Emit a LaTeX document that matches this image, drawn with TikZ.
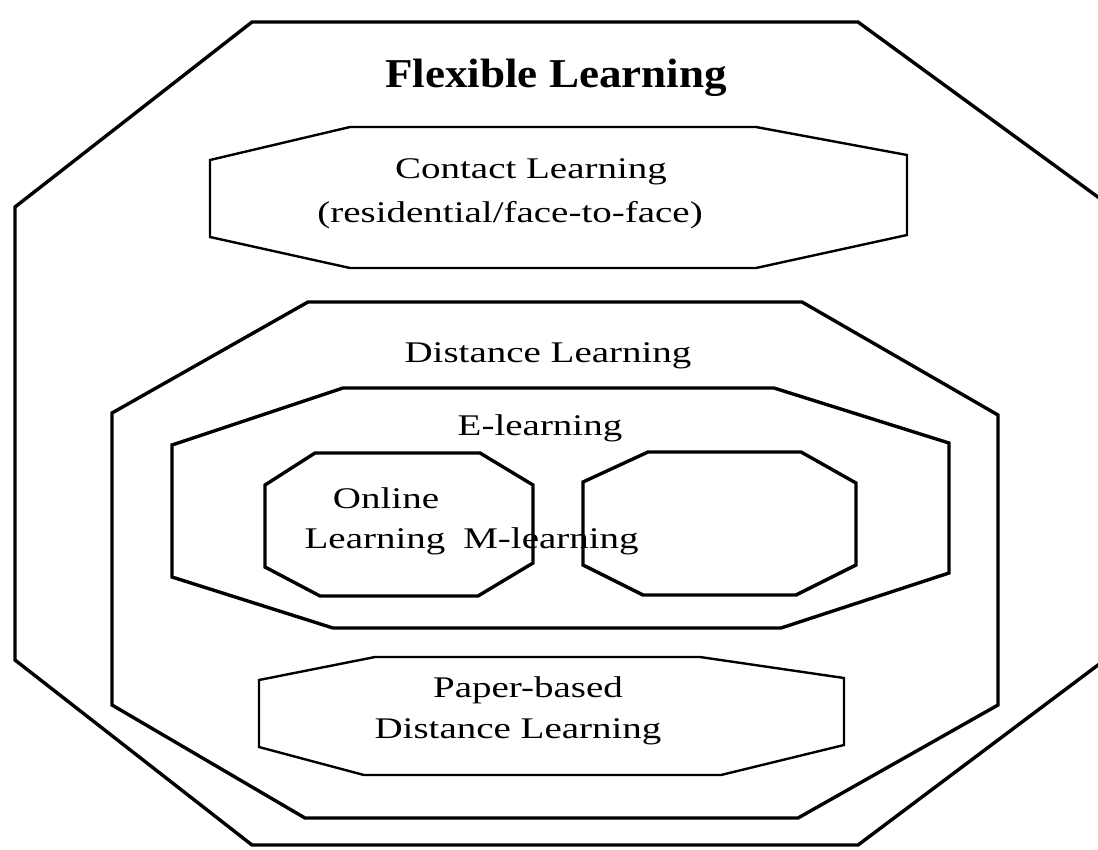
\documentclass[tikz,border=0pt]{standalone}
\usepackage{fontspec}
\setmainfont{Liberation Serif}
\newfontfamily\bodyfont[FakeStretch=1.3]{Liberation Serif}
\newfontfamily\titlefont[FakeStretch=1.1]{Liberation Serif}
\tikzset{
  octa/.style={draw=black, line width=3.4pt, line join=miter},
  octathin/.style={draw=black, line width=2.4pt, line join=miter},
  lbl/.style={inner sep=0pt, anchor=base, font=\bodyfont\fontsize{30}{42}\selectfont},
  ttl/.style={inner sep=0pt, anchor=base, font=\titlefont\bfseries\fontsize{41}{48}\selectfont}
}
\begin{document}
\begin{tikzpicture}[x=1pt, y=-1pt]
\useasboundingbox (0,0) rectangle (1098,849);
\fill[white] (0,0) rectangle (1098,849);

% Flexible Learning (outer)
\draw[octa] (252,22) -- (858,22) -- (1102,200) -- (1102,662) -- (858,845)
  -- (252,845) -- (15,660) -- (15,207) -- cycle;
% Contact Learning
\draw[octathin] (350,127) -- (756,127) -- (907,155) -- (907,235) -- (756,268)
  -- (350,268) -- (210,237) -- (210,160) -- cycle;
% Distance Learning
\draw[octa] (308,302) -- (802,302) -- (998,415) -- (998,705) -- (798,818)
  -- (305,818) -- (112,705) -- (112,413) -- cycle;
% E-learning
\draw[octa] (343,388) -- (774,388) -- (949,443) -- (949,573) -- (781,628)
  -- (333,628) -- (172,577) -- (172,445) -- cycle;
% Online Learning
\draw[octa] (315,453) -- (480,453) -- (533,485) -- (533,563) -- (478,596)
  -- (320,596) -- (265,567) -- (265,485) -- cycle;
% M-learning
\draw[octa] (648,452) -- (801,452) -- (856,483) -- (856,565) -- (796,595)
  -- (643,595) -- (583,565) -- (583,482) -- cycle;
% Paper-based Distance Learning
\draw[octathin] (375,657) -- (700,657) -- (844,678) -- (844,745) -- (721,775)
  -- (364,775) -- (259,747) -- (259,680) -- cycle;

\node[ttl] (flex) at (556,87) {Flexible Learning};
\node[lbl] (contact1) at (531,178) {Contact Learning};
\node[lbl] (contact2) at (510,222) {(residential/face-to-face)};
\node[lbl] (dist) at (548,362) {Distance Learning};
\node[lbl] (elearn) at (540,435) {E-learning};
\node[lbl] (online1) at (386,508) {Online};
\node[lbl] (online2) at (375,548) {Learning};
\node[lbl] (mlearn) at (551,548) {M-learning};
\node[lbl] (paper1) at (528,697) {Paper-based};
\node[lbl] (paper2) at (518,738) {Distance Learning};
\end{tikzpicture}
\end{document}
